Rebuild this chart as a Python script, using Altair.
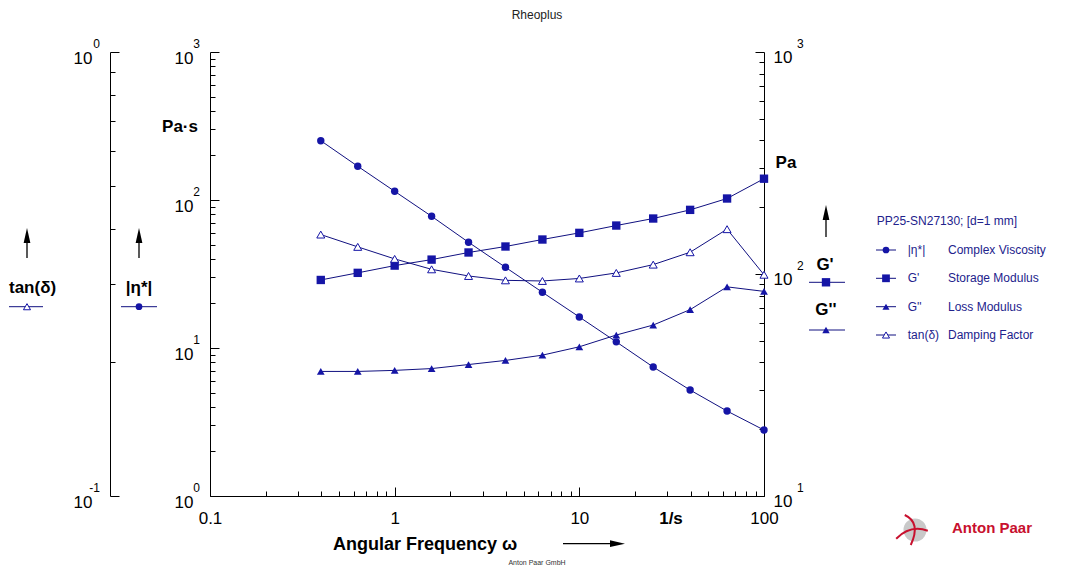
import altair as alt
import pandas as pd

# ---------------- data ----------------
freq = [0.398, 0.631, 1.0, 1.585, 2.512, 3.981, 6.31, 10.0, 15.85, 25.12, 39.81, 63.1, 100.0]
eta = [251.6, 169.0, 114.5, 77.6, 51.8, 35.1, 23.8, 16.2, 11.0, 7.44, 5.20, 3.75, 2.79]
g_storage = [94.0, 101.2, 109.1, 116.1, 125.0, 133.0, 143.0, 153.2, 165.3, 177.8, 194.5, 218.8, 268.7]
g_loss = [36.4, 36.4, 36.8, 37.5, 39.1, 40.8, 43.1, 47.0, 53.1, 58.9, 69.1, 87.5, 83.5]
tan_delta = [0.388, 0.364, 0.342, 0.324, 0.313, 0.306, 0.305, 0.309, 0.318, 0.332, 0.354, 0.399, 0.315]

x_major = [0.1, 1, 10, 100]
x_minor = [m * 10.0 ** k for k in (-1, 0, 1) for m in range(2, 10)]
eta_major = [1, 10, 100, 1000]
eta_minor = [m * 10.0 ** k for k in (0, 1, 2) for m in range(2, 10)]
g_major = [10, 100, 1000]
g_minor = [m * 10.0 ** k for k in (1, 2) for m in range(2, 10)]
tan_major = [0.1, 1]
tan_minor = [m * 0.1 for m in range(2, 10)]

x_labels = {0.1: "0.1", 1: "1", 10: "10", 100: "100"}
eta_exp = ["0", "1", "2", "3"]
g_exp = ["1", "2", "3"]
tan_exp = ["-1", "0"]

legend_names = ["|η*|", "G'", "G''", "tan(δ)"]
legend_desc = ["Complex Viscosity", "Storage Modulus", "Loss Modulus", "Damping Factor"]
legend_title = "PP25-SN27130; [d=1 mm]"

df = pd.DataFrame({"freq": freq, "eta": eta, "gp": g_storage, "gpp": g_loss, "tan": tan_delta})
dummy = pd.DataFrame({"a": [0]})

FONT = "Liberation Sans"
MARK = "#1515a6"
LINE = "#101080"
TXT_BLUE = "#22228c"
MAJ = "abs(log(datum.value)/LN10 - round(log(datum.value)/LN10)) < 0.001"


def label_expr(mapping):
    parts = [f"abs(datum.value - {v}) < {v * 1e-6} ? '{t}'" for v, t in mapping.items()]
    return " : ".join(parts) + " : ''"


def mk_axis(values, orient, labels=None, offset=0, pad=19, label_offset=0):
    lexpr = label_expr(labels) if labels else f"{MAJ} ? '10' : ''"
    return alt.Axis(
        orient=orient, offset=offset, values=values, labelExpr=lexpr,
        tickSize={"condition": {"test": MAJ, "value": -9}, "value": -5},
        labelPadding=pad, labelFont=FONT, labelFontSize=17, labelColor="black",
        tickColor="black", domainColor="black", domainWidth=1, tickWidth=1,
        grid=False, title=None, labelFlush=False, labelOverlap=False,
        labelBaseline="middle", labelOffset=label_offset,
    )


X = alt.X("freq:Q", scale=alt.Scale(type="log", domain=[0.1, 100], nice=False),
          axis=mk_axis(sorted(x_major + x_minor), "bottom", labels=x_labels, pad=31))


def logscale(domain):
    return alt.Scale(type="log", domain=domain, nice=False)


def series(col, domain, axis, shape, filled=True, size=60):
    od = dict(shape=shape, filled=filled, size=size, color=MARK, opacity=1)
    if not filled:
        od.update(fill="white", strokeWidth=1)
    return alt.Chart(df).mark_line(color=LINE, strokeWidth=1, point=alt.OverlayMarkDef(**od)).encode(
        x=X, y=alt.Y(f"{col}:Q", scale=logscale(domain), axis=axis))


def exponents(values, exps, domain, x_px, align, dy=-8):
    d = pd.DataFrame({"v": values, "e": exps})
    return alt.Chart(d).mark_text(align=align, baseline="middle", font=FONT, fontSize=12,
                                  color="black", dy=dy).encode(
        x=alt.value(x_px), y=alt.Y("v:Q", scale=logscale(domain), axis=None), text="e:N")


eta_layer = series("eta", [1, 1000], mk_axis(sorted(eta_major + eta_minor), "left", pad=26, label_offset=6), "circle", size=55)
gp_layer = series("gp", [10, 1000], mk_axis(sorted(g_major + g_minor), "right", pad=18, label_offset=5), "square", size=70)
gpp_layer = series("gpp", [10, 1000], None, "triangle-up", size=60)
tan_layer = series("tan", [0.1, 1], mk_axis(sorted(tan_major + tan_minor), "left", offset=100, pad=27, label_offset=6), "triangle-up", filled=False, size=64)

exp_layers = [
    exponents(eta_major, eta_exp, [1, 1000], -10, "right"),
    exponents(g_major, g_exp, [10, 1000], 587, "left"),
    exponents(tan_major, tan_exp, [0.1, 1], -110, "right"),
]


def txt(s, x, y, size=17, bold=True, align="center", color="black", font=FONT):
    return alt.Chart(dummy).mark_text(text=s, font=font, fontSize=size, fontWeight="bold" if bold else "normal",
                                      align=align, baseline="middle", color=color).encode(
        x=alt.value(x), y=alt.value(y))


def hline(x1, x2, y, color=LINE, w=1):
    return alt.Chart(dummy).mark_rule(color=color, strokeWidth=w).encode(
        x=alt.value(x1), x2=alt.value(x2), y=alt.value(y))


def vline(x, y1, y2, color="black", w=1.3):
    return alt.Chart(dummy).mark_rule(color=color, strokeWidth=w).encode(
        x=alt.value(x), y=alt.value(y1), y2=alt.value(y2))


def sym(x, y, shape, size=55, filled=True, color=MARK, fill=None):
    kw = dict(shape=shape, size=size, filled=filled, color=color, opacity=1)
    if fill is not None:
        kw.update(fill=fill, strokeWidth=1)
    return alt.Chart(dummy).mark_point(**kw).encode(x=alt.value(x), y=alt.value(y))


UP = "M0,-1 L0.45,1 L-0.45,1 Z"
RIGHT = "M1,0 L-1,0.45 L-1,-0.45 Z"

annot = [
    txt("Rheoplus", 327, -37, size=12, bold=False, color="#222222"),
    txt("Pa·s", -30, 75),
    txt("Pa", 576, 111),
    txt("1/s", 461, 467),
    txt("Angular Frequency ω", 123, 493, size=18, align="left"),
    hline(353, 402, 491.7, color="black", w=1.3),
    sym(407.5, 491.7, RIGHT, size=225, color="black"),
    # left side captions
    txt("tan(δ)", -201, 236, align="left"),
    txt("|η*|", -71, 236),
    vline(-183, 190, 206), sym(-183, 183.5, UP, size=225, color="black"),
    vline(-71, 190, 206), sym(-71, 183.5, UP, size=225, color="black"),
    hline(-201, -167, 254.7), sym(-183, 254.7, "triangle-up", size=50, filled=False, fill="white"),
    hline(-89, -53, 254.7), sym(-71, 254.7, "circle", size=45),
    # right side captions
    vline(616, 167, 185), sym(616, 160.5, UP, size=225, color="black"),
    txt("G'", 615, 213),
    hline(599, 635, 230.3), sym(616, 230.3, "square", size=70),
    txt("G''", 616, 258),
    hline(599, 635, 278), sym(616, 278, "triangle-up", size=55),
    # legend
    txt(legend_title, 666.7, 168.7, size=12, bold=False, align="left", color=TXT_BLUE),
    txt("Anton Paar GmbH", 327, 511, size=7, bold=False, color="#333333"),
    # logo
    sym(705, 478, "circle", size=530, color="#c9c9c9"),
    alt.Chart(dummy).mark_point(shape="M-1,0.55 Q-0.1,-0.35 1,0.05", size=1000, filled=False,
                                color="#c8102e", strokeWidth=2, opacity=1).encode(x=alt.value(702), y=alt.value(478)),
    alt.Chart(dummy).mark_point(shape="M-0.35,-1 Q0.75,-0.5 0.05,1", size=900, filled=False,
                                color="#c8102e", strokeWidth=2, opacity=1).encode(x=alt.value(700), y=alt.value(478)),
    txt("Anton Paar", 742, 476, size=15, align="left", color="#c8102e"),
]

row_y = [198, 226.3, 254.7, 283]
row_sym = [("circle", 45, True), ("square", 60, True), ("triangle-up", 50, True), ("triangle-up", 50, False)]
for yy, name, desc, (shp, sz, fl) in zip(row_y, legend_names, legend_desc, row_sym):
    annot.append(hline(666, 686, yy))
    annot.append(sym(676, yy, shp, size=sz, filled=fl, fill=None if fl else "white"))
    annot.append(txt(name, 697.7, yy, size=12, bold=False, align="left", color=TXT_BLUE))
    annot.append(txt(desc, 738, yy, size=12, bold=False, align="left", color=TXT_BLUE))

chart = alt.layer(eta_layer, gp_layer, gpp_layer, tan_layer, *exp_layers, *annot).resolve_scale(
    y="independent"
).properties(
    width=554, height=444,
    padding={"left": 202, "top": 44, "right": 292, "bottom": 72},
    autosize=alt.AutoSizeParams(type="none"),
    background="white",
).configure_view(stroke=None)

chart.save("out.html", embed_options={"renderer": "svg", "actions": False})
